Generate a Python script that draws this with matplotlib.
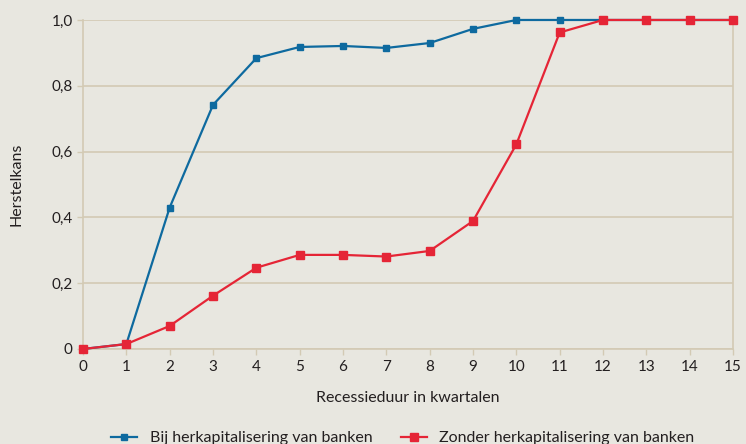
import matplotlib.pyplot as plt
from matplotlib.lines import Line2D

quarters = list(range(16))
with_recap = [0, 0.015, 0.43, 0.742, 0.884, 0.918, 0.921, 0.915, 0.930, 0.973,
              1.0, 1.0, 1.0, 1.0, 1.0, 1.0]
without_recap = [0, 0.015, 0.07, 0.162, 0.247, 0.286, 0.286, 0.281, 0.298, 0.389,
                 0.622, 0.962, 1.0, 1.0, 1.0, 1.0]
y_ticks = [0, 0.2, 0.4, 0.6, 0.8, 1.0]
y_labels = ["0", "0,2", "0,4", "0,6", "0,8", "1,0"]

BG = "#E8E7E0"
GRID = "#D3CAB4"
BLUE = "#0E6A9F"
RED = "#E52536"
TEXT = "#231F20"

plt.rcParams["font.family"] = ["Lato", "DejaVu Sans"]

fig = plt.figure(figsize=(7.46, 4.44), dpi=100, facecolor=BG)
ax = fig.add_axes([0.1113, 0.214, 0.8713, 0.741], facecolor=BG)

ax.plot(quarters, with_recap, color=BLUE, lw=1.6, marker="s", ms=5,
        zorder=3, clip_on=False)
ax.plot(quarters, without_recap, color=RED, lw=1.6, marker="s", ms=6,
        zorder=4, clip_on=False)

ax.set_xlim(0, 15)
ax.set_ylim(0, 1.0)
ax.set_xticks(quarters)
ax.set_yticks(y_ticks)
ax.set_yticklabels(y_labels)
ax.grid(axis="y", color=GRID, lw=1.2)
ax.set_axisbelow(True)

for side in ["left", "right", "bottom"]:
    ax.spines[side].set_color(GRID)
    ax.spines[side].set_linewidth(1.2)
ax.spines["top"].set_visible(False)

ax.tick_params(axis="both", colors=GRID, labelcolor=TEXT, labelsize=11,
               length=4, width=1)
ax.tick_params(axis="x", pad=4)

ax.set_xlabel("Recessieduur in kwartalen", fontsize=11.5, color=TEXT, labelpad=12)
ax.set_ylabel("Herstelkans", fontsize=11.5, color=TEXT, labelpad=20)

handles = [
    Line2D([], [], color=BLUE, lw=1.6, marker="s", ms=5),
    Line2D([], [], color=RED, lw=1.6, marker="s", ms=6),
]
fig.legend(handles, ["Bij herkapitalisering van banken",
                     "Zonder herkapitalisering van banken"],
           loc="lower center", bbox_to_anchor=(0.54, -0.035), ncol=2,
           frameon=False, fontsize=11.5, handlelength=1.6, columnspacing=1.8,
           labelcolor=TEXT)

fig.savefig("out.png", dpi=100, facecolor=BG)
